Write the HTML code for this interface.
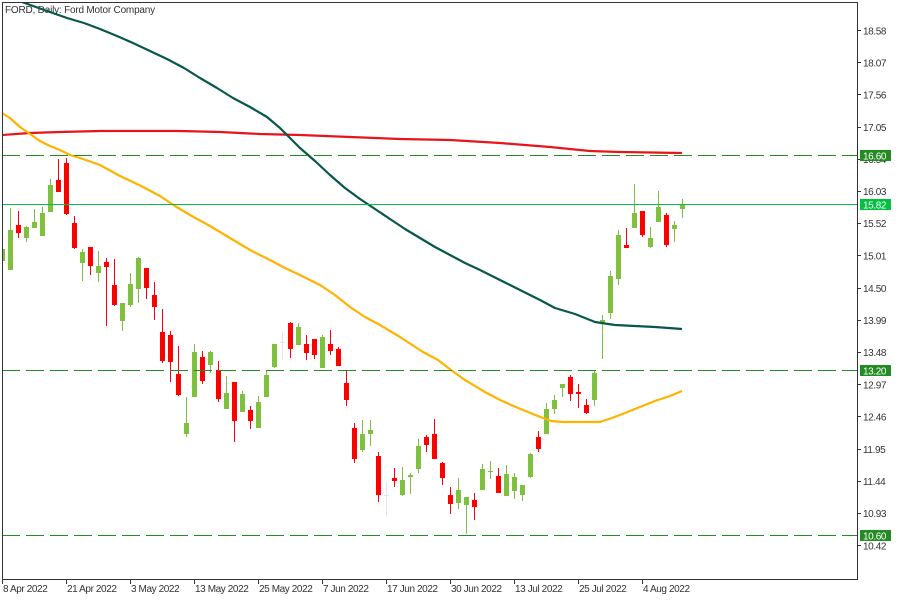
<!DOCTYPE html>
<html><head><meta charset="utf-8"><style>
html,body{margin:0;padding:0;background:#fff;width:900px;height:600px;overflow:hidden}
svg{display:block}
text{font-family:"Liberation Sans",sans-serif;font-size:10px;fill:#333;letter-spacing:-0.4px}
.w{fill:#fff}
</style></head><body>
<svg width="900" height="600" viewBox="0 0 900 600" xmlns="http://www.w3.org/2000/svg">
<defs><clipPath id="pc"><rect x="3" y="3" width="854" height="576"/></clipPath></defs>
<rect width="900" height="600" fill="#fff"/>
<text x="5" y="13" style="letter-spacing:-0.2px">FORD, Daily:  Ford Motor Company</text>
<g clip-path="url(#pc)" shape-rendering="crispEdges">
<path fill="#80c040" d="M0 249h5v12h-5z M8 230h5v40h-5z M24 227h5v11h-5z M32 222h5v6h-5z M40 213h5v23h-5z M48 185h5v27h-5z M80 252h5v11h-5z M96 266h5v7h-5z M120 303h5v18h-5z M128 284h5v21h-5z M136 258h5v31h-5z M184 423h5v11h-5z M192 352h5v45h-5z M208 352h5v13h-5z M224 393h5v16h-5z M240 394h5v18h-5z M256 402h5v26h-5z M264 375h5v22h-5z M272 344h5v23h-5z M296 327h5v18h-5z M320 337h5v31h-5z M360 434h5v16h-5z M368 430h5v4h-5z M400 480h5v15h-5z M408 475h5v2h-5z M416 446h5v23h-5z M456 490h5v13h-5z M464 497h5v8h-5z M480 469h5v21h-5z M488 471h5v1h-5z M504 474h5v22h-5z M512 477h5v14h-5z M520 485h5v10h-5z M528 454h5v23h-5z M544 409h5v25h-5z M552 400h5v9h-5z M560 384h5v4h-5z M592 373h5v27h-5z M600 320h5v3h-5z M608 276h5v37h-5z M616 235h5v44h-5z M632 213h5v15h-5z M648 238h5v9h-5z M656 207h5v15h-5z M672 225h5v4h-5z M680 204h5v5h-5z"/>
<path fill="#80c040" d="M2 249h1v12h-1z M10 208h1v62h-1z M26 226h1v16h-1z M34 209h1v19h-1z M42 207h1v29h-1z M50 179h1v33h-1z M82 249h1v32h-1z M98 251h1v31h-1z M122 303h1v28h-1z M130 273h1v34h-1z M138 257h1v46h-1z M186 397h1v40h-1z M194 344h1v53h-1z M210 351h1v22h-1z M226 376h1v33h-1z M242 391h1v21h-1z M258 396h1v32h-1z M266 370h1v27h-1z M274 344h1v24h-1z M298 323h1v22h-1z M322 335h1v33h-1z M362 420h1v32h-1z M370 420h1v26h-1z M402 467h1v29h-1z M410 473h1v21h-1z M418 439h1v34h-1z M458 478h1v31h-1z M466 497h1v37h-1z M482 464h1v26h-1z M490 461h1v18h-1z M506 465h1v31h-1z M514 473h1v26h-1z M522 485h1v16h-1z M530 453h1v25h-1z M546 403h1v31h-1z M554 395h1v19h-1z M562 384h1v13h-1z M594 371h1v35h-1z M602 315h1v44h-1z M610 271h1v48h-1z M618 230h1v55h-1z M634 184h1v44h-1z M650 227h1v21h-1z M658 191h1v31h-1z M674 221h1v21h-1z M682 199h1v19h-1z"/>
<path fill="#ff0000" d="M16 225h5v8h-5z M56 180h5v12h-5z M64 163h5v51h-5z M72 223h5v25h-5z M88 247h5v19h-5z M104 262h5v5h-5z M112 285h5v20h-5z M144 268h5v20h-5z M152 295h5v12h-5z M160 332h5v29h-5z M168 335h5v27h-5z M176 374h5v21h-5z M200 357h5v24h-5z M216 370h5v29h-5z M232 382h5v39h-5z M248 410h5v11h-5z M288 323h5v26h-5z M304 344h5v9h-5z M312 339h5v16h-5z M328 344h5v7h-5z M336 349h5v17h-5z M344 383h5v17h-5z M352 428h5v31h-5z M376 456h5v39h-5z M392 478h5v3h-5z M424 437h5v8h-5z M432 434h5v25h-5z M440 463h5v15h-5z M448 495h5v9h-5z M472 500h5v7h-5z M496 476h5v17h-5z M536 437h5v12h-5z M568 377h5v17h-5z M576 392h5v2h-5z M584 405h5v8h-5z M624 245h5v3h-5z M640 211h5v24h-5z M664 215h5v30h-5z"/>
<path fill="#ff0000" d="M18 211h1v27h-1z M58 159h1v33h-1z M66 158h1v57h-1z M74 216h1v33h-1z M90 247h1v28h-1z M106 258h1v68h-1z M114 259h1v47h-1z M146 268h1v31h-1z M154 282h1v38h-1z M162 309h1v54h-1z M170 331h1v51h-1z M178 346h1v50h-1z M202 351h1v33h-1z M218 361h1v41h-1z M234 382h1v60h-1z M250 406h1v23h-1z M290 322h1v36h-1z M306 335h1v25h-1z M314 339h1v20h-1z M330 330h1v25h-1z M338 347h1v19h-1z M346 371h1v35h-1z M354 423h1v40h-1z M378 452h1v50h-1z M394 468h1v19h-1z M426 435h1v17h-1z M434 419h1v40h-1z M442 462h1v23h-1z M450 487h1v27h-1z M474 493h1v27h-1z M498 468h1v25h-1z M538 431h1v21h-1z M570 375h1v26h-1z M578 384h1v24h-1z M586 399h1v15h-1z M626 228h1v20h-1z M642 211h1v26h-1z M666 213h1v34h-1z"/>
<path fill="#dde6ea" d="M280 342h5v1h-5z M282 332h1v28h-1z M384 495h5v1h-5z M386 482h1v34h-1z"/>
</g>
<g clip-path="url(#pc)" fill="none" stroke-width="2.2" stroke-linejoin="round">
<polyline stroke="#e8141c" points="2,135 30,133 60,132 100,131 140,131 180,131 220,132 260,134 300,135 350,137 400,139 450,140 500,143 550,147 590,151 620,152 682,153"/>
<polyline stroke="#ffb300" points="2,113 10,118 20,127 30,134 40,141 50,146 60,150 70,155 80,158 100,165 120,176 135,183 145,188 160,196 175,206 190,215 210,226 230,238 250,250 270,260 285,268 300,275 320,285 335,295 350,307 365,317 380,325 400,337 423,352 438,360 451,370 465,380 485,392 500,400 518,408 538,416 551,421 563,422 580,422 600,422 612,418 625,413 640,407 655,401 670,396 682,391"/>
<polyline stroke="#07584b" points="18,0 22,2 33,6 50,12 67,18 84,23 100,29 117,36 133,43 150,51 167,59 184,68 200,78 217,88 233,98 250,107 267,117 280,128 290,138 300,148 315,161 330,175 345,188 360,199 375,209 390,219 405,229 420,238 435,247 450,255 465,263 480,270 500,280 520,290 540,300 555,308 575,314 595,322 615,325 635,326 655,327 682,329"/>
</g>
<g shape-rendering="crispEdges">
<path stroke="#228b22" stroke-dasharray="18 6" d="M2 155.5H857 M2 370.5H857 M2 535.5H857"/>
<path stroke="#00c040" d="M2 204.5H857"/>
</g>
<rect x="2.5" y="2.5" width="855" height="577" fill="none" stroke="#333" shape-rendering="crispEdges"/>
<path stroke="#333" shape-rendering="crispEdges" d="M857 30.5h4 M857 62.5h4 M857 94.5h4 M857 127.5h4 M857 159.5h4 M857 191.5h4 M857 223.5h4 M857 255.5h4 M857 288.5h4 M857 320.5h4 M857 352.5h4 M857 384.5h4 M857 416.5h4 M857 449.5h4 M857 481.5h4 M857 513.5h4 M857 545.5h4 M2.5 579v5 M66.5 579v5 M130.5 579v5 M194.5 579v5 M258.5 579v5 M322.5 579v5 M386.5 579v5 M450.5 579v5 M514.5 579v5 M578.5 579v5 M642.5 579v5"/>
<text x="863" y="34.5">18.58</text>
<text x="863" y="66.5">18.07</text>
<text x="863" y="98.5">17.56</text>
<text x="863" y="131">17.05</text>
<text x="863" y="163">16.54</text>
<text x="863" y="195">16.03</text>
<text x="863" y="227">15.52</text>
<text x="863" y="259.5">15.01</text>
<text x="863" y="292">14.50</text>
<text x="863" y="324">13.99</text>
<text x="863" y="356">13.48</text>
<text x="863" y="388.5">12.97</text>
<text x="863" y="420.5">12.46</text>
<text x="863" y="453">11.95</text>
<text x="863" y="485">11.44</text>
<text x="863" y="517">10.93</text>
<text x="863" y="549.5">10.42</text>
<path shape-rendering="crispEdges" fill="#228b22" d="M860 150h31v11h-31z M860 365h31v11h-31z M860 530h31v11h-31z"/>
<path shape-rendering="crispEdges" fill="#00c040" d="M860 199h31v11h-31z"/>
<text class="w" x="863" y="159.5">16.60</text>
<text class="w" x="863" y="208.5">15.82</text>
<text class="w" x="863" y="374.5">13.20</text>
<text class="w" x="863" y="539.5">10.60</text>
<text x="3" y="592">8 Apr 2022</text>
<text x="67" y="592">21 Apr 2022</text>
<text x="131" y="592">3 May 2022</text>
<text x="195" y="592">13 May 2022</text>
<text x="259" y="592">25 May 2022</text>
<text x="323" y="592">7 Jun 2022</text>
<text x="387" y="592">17 Jun 2022</text>
<text x="451" y="592">30 Jun 2022</text>
<text x="515" y="592">13 Jul 2022</text>
<text x="579" y="592">25 Jul 2022</text>
<text x="643" y="592">4 Aug 2022</text>
</svg>
</body></html>
